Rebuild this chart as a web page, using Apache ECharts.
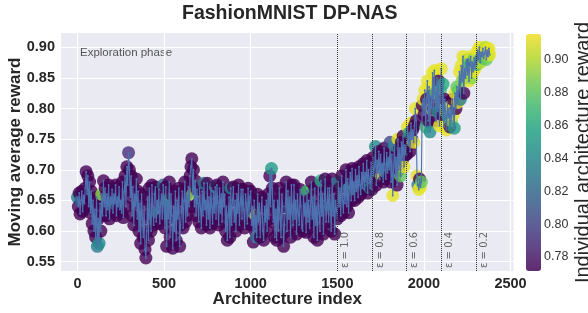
<!DOCTYPE html>
<html>
<head>
<meta charset="utf-8">
<script src="https://cdn.jsdelivr.net/npm/echarts@6/dist/echarts.min.js"></script>
<style>
  html, body { margin: 0; padding: 0; background: #fff; }
  #chart { width: 588px; height: 313px; }
</style>
</head>
<body>
<div id="chart"></div>
<script>
// one sample every 5 architectures (0 .. 2380)
const step = 5;

// moving average reward (y of every dot and of the blue line), 10 values per 50 architectures
const movingAvg = [
  0.655, 0.640, 0.662, 0.628, 0.650, 0.665, 0.632, 0.658, 0.645, 0.670,
  0.697, 0.660, 0.690, 0.640, 0.680, 0.630, 0.665, 0.612, 0.650, 0.600,
  0.635, 0.590, 0.655, 0.575, 0.620, 0.580, 0.645, 0.600, 0.660, 0.625,
  0.682, 0.640, 0.670, 0.625, 0.660, 0.635, 0.675, 0.620, 0.655, 0.645,
  0.668, 0.630, 0.660, 0.645, 0.675, 0.625, 0.655, 0.640, 0.672, 0.635,
  0.650, 0.630, 0.680, 0.622, 0.665, 0.690, 0.640, 0.705, 0.675, 0.728,
  0.700, 0.655, 0.690, 0.625, 0.672, 0.610, 0.660, 0.640, 0.685, 0.620,
  0.665, 0.600, 0.645, 0.580, 0.660, 0.620, 0.590, 0.640, 0.570, 0.556,
  0.600, 0.655, 0.585, 0.670, 0.625, 0.600, 0.675, 0.640, 0.610, 0.660,
  0.672, 0.615, 0.650, 0.630, 0.668, 0.612, 0.645, 0.660, 0.620, 0.675,
  0.640, 0.605, 0.672, 0.575, 0.650, 0.620, 0.680, 0.590, 0.660, 0.625,
  0.572, 0.640, 0.600, 0.665, 0.585, 0.650, 0.620, 0.670, 0.575, 0.610,
  0.630, 0.665, 0.605, 0.650, 0.680, 0.615, 0.660, 0.625, 0.672, 0.640,
  0.690, 0.705, 0.718, 0.660, 0.700, 0.640, 0.682, 0.625, 0.668, 0.645,
  0.615, 0.670, 0.640, 0.605, 0.665, 0.625, 0.678, 0.635, 0.650, 0.610,
  0.678, 0.620, 0.655, 0.605, 0.670, 0.640, 0.612, 0.665, 0.630, 0.672,
  0.620, 0.675, 0.645, 0.610, 0.670, 0.630, 0.660, 0.615, 0.680, 0.640,
  0.660, 0.600, 0.640, 0.585, 0.625, 0.655, 0.590, 0.670, 0.610, 0.650,
  0.672, 0.615, 0.650, 0.600, 0.660, 0.630, 0.675, 0.610, 0.645, 0.668,
  0.620, 0.668, 0.635, 0.605, 0.660, 0.645, 0.612, 0.670, 0.625, 0.655,
  0.665, 0.610, 0.640, 0.582, 0.650, 0.600, 0.625, 0.590, 0.660, 0.615,
  0.645, 0.590, 0.630, 0.655, 0.600, 0.585, 0.640, 0.615, 0.650, 0.600,
  0.660, 0.620, 0.690, 0.640, 0.702, 0.670, 0.615, 0.650, 0.590, 0.635,
  0.585, 0.650, 0.600, 0.670, 0.620, 0.590, 0.660, 0.640, 0.575, 0.610,
  0.640, 0.680, 0.600, 0.665, 0.620, 0.655, 0.590, 0.675, 0.630, 0.610,
  0.675, 0.620, 0.650, 0.595, 0.660, 0.630, 0.610, 0.668, 0.640, 0.605,
  0.600, 0.660, 0.625, 0.645, 0.598, 0.665, 0.615, 0.650, 0.605, 0.640,
  0.680, 0.620, 0.655, 0.590, 0.670, 0.610, 0.640, 0.585, 0.675, 0.630,
  0.600, 0.682, 0.625, 0.660, 0.595, 0.650, 0.685, 0.615, 0.640, 0.670,
  0.615, 0.670, 0.640, 0.600, 0.685, 0.625, 0.660, 0.595, 0.650, 0.635,
  0.620, 0.680, 0.640, 0.670, 0.625, 0.690, 0.650, 0.630, 0.675, 0.645,
  0.700, 0.640, 0.685, 0.630, 0.670, 0.695, 0.650, 0.702, 0.660, 0.680,
  0.650, 0.700, 0.665, 0.690, 0.655, 0.705, 0.675, 0.660, 0.695, 0.670,
  0.710, 0.668, 0.695, 0.680, 0.715, 0.662, 0.700, 0.685, 0.670, 0.712,
  0.668, 0.720, 0.690, 0.705, 0.738, 0.675, 0.715, 0.695, 0.730, 0.685,
  0.725, 0.690, 0.710, 0.680, 0.735, 0.700, 0.685, 0.728, 0.695, 0.720,
  0.700, 0.745, 0.680, 0.725, 0.658, 0.705, 0.740, 0.690, 0.720, 0.675,
  0.750, 0.700, 0.735, 0.690, 0.745, 0.715, 0.755, 0.705, 0.740, 0.725,
  0.725, 0.770, 0.740, 0.760, 0.730, 0.776, 0.750, 0.765, 0.745, 0.772,
  0.800, 0.780, 0.690, 0.675, 0.668, 0.685, 0.672, 0.680, 0.805, 0.815,
  0.790, 0.830, 0.770, 0.815, 0.845, 0.780, 0.835, 0.762, 0.820, 0.800,
  0.858, 0.800, 0.862, 0.825, 0.780, 0.850, 0.795, 0.845, 0.772, 0.830,
  0.865, 0.790, 0.840, 0.770, 0.815, 0.795, 0.765, 0.810, 0.785, 0.800,
  0.770, 0.805, 0.780, 0.815, 0.790, 0.768, 0.825, 0.800, 0.835, 0.810,
  0.830, 0.860, 0.815, 0.870, 0.845, 0.885, 0.825, 0.865, 0.850, 0.880,
  0.855, 0.880, 0.845, 0.870, 0.885, 0.850, 0.875, 0.860, 0.882, 0.865,
  0.885, 0.872, 0.895, 0.880, 0.900, 0.875, 0.892, 0.885, 0.898, 0.882,
  0.890, 0.900, 0.880, 0.895, 0.885, 0.898, 0.888
];

// individual architecture reward (colour of every dot), same layout
const indivReward = [
  0.83, 0.70, 0.70, 0.70, 0.82, 0.70, 0.70, 0.70, 0.70, 0.70,
  0.70, 0.70, 0.70, 0.70, 0.70, 0.70, 0.70, 0.70, 0.70, 0.70,
  0.70, 0.70, 0.70, 0.83, 0.70, 0.84, 0.70, 0.70, 0.89, 0.70,
  0.70, 0.70, 0.70, 0.70, 0.70, 0.70, 0.70, 0.70, 0.70, 0.70,
  0.70, 0.70, 0.70, 0.83, 0.70, 0.70, 0.70, 0.70, 0.70, 0.70,
  0.70, 0.70, 0.70, 0.70, 0.70, 0.70, 0.70, 0.70, 0.70, 0.79,
  0.70, 0.70, 0.70, 0.70, 0.70, 0.70, 0.70, 0.70, 0.70, 0.70,
  0.70, 0.70, 0.70, 0.70, 0.70, 0.70, 0.70, 0.70, 0.70, 0.70,
  0.70, 0.70, 0.70, 0.70, 0.70, 0.70, 0.70, 0.70, 0.70, 0.70,
  0.70, 0.70, 0.70, 0.83, 0.70, 0.70, 0.70, 0.70, 0.70, 0.82,
  0.70, 0.70, 0.70, 0.70, 0.86, 0.70, 0.70, 0.70, 0.70, 0.70,
  0.70, 0.70, 0.70, 0.70, 0.70, 0.70, 0.70, 0.70, 0.70, 0.70,
  0.70, 0.70, 0.70, 0.70, 0.70, 0.70, 0.70, 0.70, 0.70, 0.70,
  0.70, 0.70, 0.70, 0.89, 0.70, 0.70, 0.70, 0.70, 0.70, 0.70,
  0.70, 0.70, 0.70, 0.70, 0.70, 0.70, 0.83, 0.70, 0.70, 0.70,
  0.70, 0.70, 0.70, 0.70, 0.70, 0.70, 0.70, 0.70, 0.70, 0.84,
  0.70, 0.70, 0.70, 0.70, 0.70, 0.70, 0.70, 0.70, 0.70, 0.70,
  0.70, 0.70, 0.70, 0.70, 0.70, 0.70, 0.70, 0.83, 0.70, 0.70,
  0.70, 0.70, 0.70, 0.70, 0.70, 0.70, 0.70, 0.70, 0.70, 0.70,
  0.70, 0.70, 0.70, 0.70, 0.70, 0.70, 0.70, 0.70, 0.70, 0.70,
  0.70, 0.70, 0.70, 0.70, 0.70, 0.70, 0.91, 0.83, 0.70, 0.70,
  0.70, 0.70, 0.70, 0.70, 0.70, 0.70, 0.70, 0.70, 0.70, 0.70,
  0.70, 0.70, 0.70, 0.70, 0.85, 0.70, 0.70, 0.70, 0.70, 0.70,
  0.70, 0.70, 0.70, 0.70, 0.70, 0.70, 0.70, 0.70, 0.70, 0.70,
  0.70, 0.70, 0.70, 0.70, 0.70, 0.70, 0.70, 0.70, 0.70, 0.70,
  0.70, 0.70, 0.70, 0.70, 0.70, 0.70, 0.70, 0.70, 0.70, 0.70,
  0.70, 0.70, 0.70, 0.70, 0.70, 0.87, 0.70, 0.70, 0.70, 0.70,
  0.70, 0.70, 0.70, 0.70, 0.70, 0.70, 0.70, 0.70, 0.70, 0.70,
  0.70, 0.86, 0.70, 0.70, 0.70, 0.70, 0.70, 0.70, 0.70, 0.70,
  0.70, 0.70, 0.83, 0.70, 0.70, 0.70, 0.70, 0.70, 0.70, 0.70,
  0.70, 0.83, 0.70, 0.70, 0.70, 0.70, 0.70, 0.70, 0.70, 0.70,
  0.70, 0.70, 0.70, 0.70, 0.86, 0.70, 0.70, 0.70, 0.70, 0.70,
  0.70, 0.70, 0.82, 0.70, 0.70, 0.70, 0.70, 0.70, 0.70, 0.70,
  0.70, 0.70, 0.70, 0.70, 0.70, 0.70, 0.70, 0.70, 0.84, 0.70,
  0.70, 0.70, 0.70, 0.70, 0.84, 0.70, 0.70, 0.70, 0.70, 0.70,
  0.70, 0.91, 0.70, 0.70, 0.70, 0.86, 0.70, 0.70, 0.70, 0.70,
  0.70, 0.80, 0.70, 0.70, 0.91, 0.70, 0.84, 0.70, 0.70, 0.70,
  0.91, 0.70, 0.70, 0.88, 0.70, 0.70, 0.70, 0.91, 0.70, 0.70,
  0.70, 0.91, 0.70, 0.85, 0.70, 0.91, 0.70, 0.70, 0.91, 0.70,
  0.91, 0.70, 0.91, 0.83, 0.91, 0.70, 0.91, 0.88, 0.70, 0.91,
  0.70, 0.91, 0.87, 0.70, 0.91, 0.70, 0.91, 0.84, 0.70, 0.91,
  0.91, 0.70, 0.91, 0.88, 0.70, 0.91, 0.84, 0.70, 0.91, 0.87,
  0.91, 0.70, 0.86, 0.91, 0.70, 0.89, 0.91, 0.70, 0.85, 0.91,
  0.70, 0.91, 0.89, 0.70, 0.91, 0.85, 0.91, 0.70, 0.88, 0.91,
  0.88, 0.91, 0.83, 0.91, 0.89, 0.91, 0.70, 0.91, 0.86, 0.91,
  0.91, 0.88, 0.91, 0.86, 0.91, 0.89, 0.80, 0.91, 0.88, 0.91,
  0.91, 0.87, 0.91, 0.89, 0.91, 0.90, 0.91, 0.84, 0.91, 0.88,
  0.91, 0.90, 0.88, 0.91, 0.89, 0.91, 0.91
];

// epsilon schedule markers
const epsIndex = [1500, 1700, 1900, 2100, 2300];
const epsLabel = ['1.0', '0.8', '0.6', '0.4', '0.2'];

const xTicks = [0, 500, 1000, 1500, 2000, 2500];
const yTicks = [0.55, 0.60, 0.65, 0.70, 0.75, 0.80, 0.85, 0.90];
const cbarTicks = [0.78, 0.80, 0.82, 0.84, 0.86, 0.88, 0.90];

const cbarMin = 0.7715, cbarMax = 0.9154;
const viridis = [
  'rgba(68,1,84,0.8)', 'rgba(72,36,117,0.8)', 'rgba(65,68,135,0.8)',
  'rgba(53,95,141,0.8)', 'rgba(42,120,142,0.8)', 'rgba(33,145,140,0.8)',
  'rgba(34,168,132,0.8)', 'rgba(68,191,112,0.8)', 'rgba(122,209,81,0.8)',
  'rgba(189,223,38,0.8)', 'rgba(253,231,37,0.8)'
];

const font = '"Liberation Sans", Arial, sans-serif';
const dark = '#262626';

// rewards below the colour bar range take its lowest colour
const dots = movingAvg.map((v, i) => [i * step, v,
  Math.min(cbarMax, Math.max(cbarMin, indivReward[i]))]);
const line = movingAvg.map((v, i) => [i * step, v]);

const chart = echarts.init(document.getElementById('chart'), null, { renderer: 'canvas' });

chart.setOption({
  backgroundColor: '#fff',
  animation: false,
  title: {
    text: 'FashionMNIST DP-NAS',
    left: 177, top: -1,
    textStyle: { fontFamily: font, fontSize: 19.5, fontWeight: 'bold', color: dark }
  },
  grid: [
    { left: 61, top: 33, width: 452.5, height: 238, show: true, backgroundColor: '#EAEAF2',
      borderWidth: 0, outerBoundsMode: 'none', containLabel: false },
    { left: 526, top: 34, width: 15, height: 237, show: false, outerBoundsMode: 'none', containLabel: false }
  ],
  xAxis: [{
    type: 'value', gridIndex: 0, min: -95, max: 2517,
    axisLine: { show: false }, axisTick: { show: false, customValues: xTicks },
    axisLabel: { customValues: xTicks, margin: 5, fontFamily: font, fontSize: 14.5, fontWeight: 'bold', color: dark,
      formatter: v => String(v) },
    splitLine: { show: true, lineStyle: { color: '#fff', width: 1.2 } },
    name: 'Architecture index', nameLocation: 'middle', nameGap: 20, nameMoveOverlap: false,
    nameTextStyle: { fontFamily: font, fontSize: 17, fontWeight: 'bold', color: dark }
  }, {
    type: 'value', gridIndex: 1, show: false, min: 0, max: 1
  }],
  yAxis: [{
    type: 'value', gridIndex: 0, min: 0.5348, max: 0.9233,
    axisLine: { show: false }, axisTick: { show: false, customValues: yTicks },
    axisLabel: { customValues: yTicks, margin: 6, fontFamily: font, fontSize: 14.5, fontWeight: 'bold', color: dark,
      formatter: v => v.toFixed(2) },
    splitLine: { show: true, lineStyle: { color: '#fff', width: 1.2 } },
    name: 'Moving average reward', nameLocation: 'middle', nameGap: 37, nameRotate: 90, nameMoveOverlap: false,
    nameTextStyle: { fontFamily: font, fontSize: 17, fontWeight: 'bold', color: dark }
  }, {
    type: 'value', gridIndex: 1, position: 'right', min: cbarMin, max: cbarMax,
    axisLine: { show: false },
    axisTick: { show: true, customValues: cbarTicks, length: 2.5, lineStyle: { color: '#444' } },
    axisLabel: { customValues: cbarTicks, margin: 3, fontFamily: font, fontSize: 12.5, color: '#333',
      formatter: v => v.toFixed(2) },
    splitLine: { show: false },
    name: 'Individual architecture reward', nameLocation: 'middle', nameGap: 32, nameRotate: 90, nameMoveOverlap: false,
    nameTextStyle: { fontFamily: font, fontSize: 20, color: dark }
  }],
  visualMap: {
    type: 'continuous', seriesIndex: 0, dimension: 2,
    min: cbarMin, max: cbarMax, calculable: false,
    left: 526, top: 34, itemWidth: 15, itemHeight: 237, padding: 0,
    text: null, showLabel: false,
    inRange: { color: viridis }
  },
  graphic: [{
    type: 'text', left: 80, top: 47,
    style: { text: 'Exploration phase', font: '11.5px "Liberation Sans", Arial, sans-serif', fill: '#555' }
  }],
  series: [{
    type: 'scatter', xAxisIndex: 0, yAxisIndex: 0,
    data: dots, symbol: 'circle', symbolSize: 13,
    itemStyle: { borderWidth: 0, opacity: 1 },
    z: 2
  }, {
    type: 'line', xAxisIndex: 0, yAxisIndex: 0,
    data: line, showSymbol: true, symbol: 'circle', symbolSize: 2,
    lineStyle: { color: '#4C72B0', width: 1.1 },
    itemStyle: { color: '#4C72B0' },
    z: 3,
    markLine: {
      silent: true, symbol: ['none', 'none'],
      lineStyle: { type: 'dotted', color: '#333', width: 1 },
      label: { show: true, position: 'insideStartBottom', fontFamily: 'DejaVu Sans', fontSize: 10, color: '#666', distance: 3 },
      data: epsIndex.map((x, i) => ({ xAxis: x, label: { formatter: 'ε = ' + epsLabel[i] } }))
    }
  }]
});
</script>
</body>
</html>
